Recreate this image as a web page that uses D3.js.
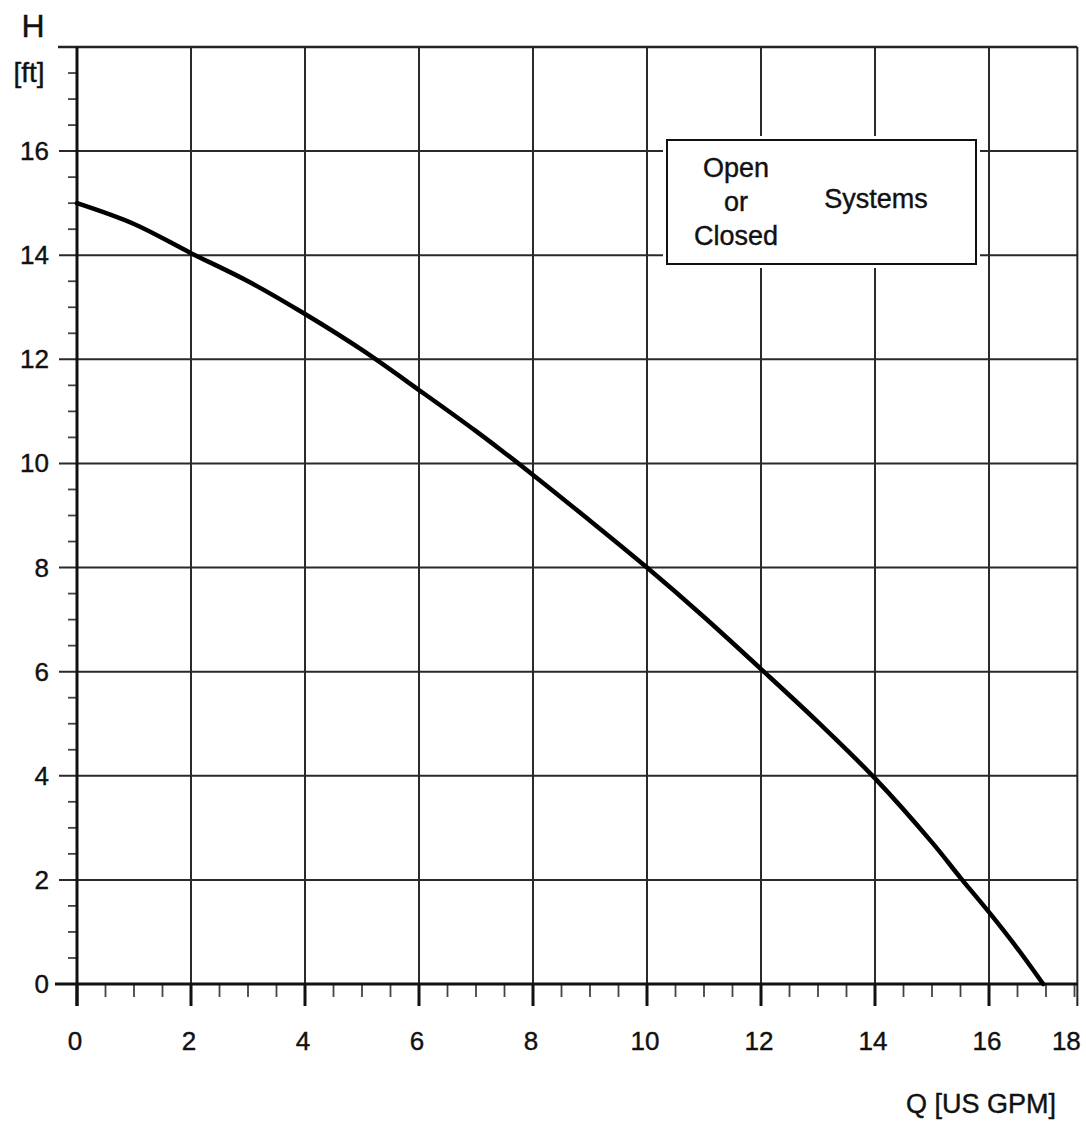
<!DOCTYPE html>
<html lang="en">
    <head>
        <meta charset="utf-8">
        <title>Pump curve</title>
        <script type="text/javascript" src="https://cdnjs.cloudflare.com/ajax/libs/d3/7.8.5/d3.min.js"></script>
        <style type="text/css">
            body { margin: 0; background: #fff; }
            text { font-family: "Liberation Sans", Arial, sans-serif; fill: #111; stroke: #111; stroke-width: 0.4px; }
        </style>
    </head>
    <body>
        <script type="text/javascript">
            // data
            var flowQ = [0, 1, 2, 3, 4, 5, 6, 7, 8, 9, 10, 11, 12, 13, 14, 15, 15.5, 16, 16.5, 16.95];
            var headH = [15.0, 14.6, 14.04, 13.5, 12.87, 12.18, 11.41, 10.62, 9.78, 8.9, 8.0, 7.05, 6.05, 5.03, 3.95, 2.72, 2.04, 1.38, 0.68, 0];
            var xTicks = [0, 2, 4, 6, 8, 10, 12, 14, 16, 18];
            var yTicks = [0, 2, 4, 6, 8, 10, 12, 14, 16];
            var noteLeft = ["Open", "or", "Closed"];
            var noteRight = "Systems";

            var w = 1086;
            var h = 1123;
            var xFrameMax = 17.55;   // the scan is cut off before 18

            var x = d3.scaleLinear().domain([0, 18]).range([77, 1103]);
            var y = d3.scaleLinear().domain([0, 18]).range([984, 47]);

            var svg = d3.select("body")
                        .append("svg")
                        .attr("width", w)
                        .attr("height", h);

            var right = x(xFrameMax);
            var minorX = d3.range(0, 17.51, 0.5).filter(function (d) { return d % 2 !== 0; });
            var minorY = d3.range(0, 18, 0.5).filter(function (d) { return d % 2 !== 0; });

            // grid
            svg.selectAll("line.vgrid")
               .data(xTicks.filter(function (d) { return d > 0 && d < xFrameMax; }))
               .enter()
               .append("line")
               .attr("class", "vgrid")
               .attr("x1", function (d) { return x(d); })
               .attr("x2", function (d) { return x(d); })
               .attr("y1", y(18))
               .attr("y2", y(0))
               .attr("stroke", "#2a2a2a")
               .attr("stroke-width", 2);

            svg.selectAll("line.hgrid")
               .data(yTicks.filter(function (d) { return d > 0; }))
               .enter()
               .append("line")
               .attr("class", "hgrid")
               .attr("x1", 59)
               .attr("x2", right)
               .attr("y1", function (d) { return y(d); })
               .attr("y2", function (d) { return y(d); })
               .attr("stroke", "#2a2a2a")
               .attr("stroke-width", 2);

            // major ticks under the x axis
            svg.selectAll("line.xmajor")
               .data(xTicks.filter(function (d) { return d < xFrameMax; }))
               .enter()
               .append("line")
               .attr("class", "xmajor")
               .attr("x1", function (d) { return x(d); })
               .attr("x2", function (d) { return x(d); })
               .attr("y1", y(0))
               .attr("y2", 1006)
               .attr("stroke", "#111")
               .attr("stroke-width", 3);

            svg.selectAll("line.xminor")
               .data(minorX)
               .enter()
               .append("line")
               .attr("class", "xminor")
               .attr("x1", function (d) { return x(d); })
               .attr("x2", function (d) { return x(d); })
               .attr("y1", y(0))
               .attr("y2", 997)
               .attr("stroke", "#444")
               .attr("stroke-width", 1.8);

            svg.selectAll("line.yminor")
               .data(minorY)
               .enter()
               .append("line")
               .attr("class", "yminor")
               .attr("x1", 68)
               .attr("x2", x(0))
               .attr("y1", function (d) { return y(d); })
               .attr("y2", function (d) { return y(d); })
               .attr("stroke", "#444")
               .attr("stroke-width", 1.8);

            // frame
            svg.append("line")
               .attr("x1", 58).attr("x2", right)
               .attr("y1", y(18)).attr("y2", y(18))
               .attr("stroke", "#222").attr("stroke-width", 2.5);
            svg.append("line")
               .attr("x1", right).attr("x2", right)
               .attr("y1", y(18)).attr("y2", 1006)
               .attr("stroke", "#222").attr("stroke-width", 2);
            svg.append("line")
               .attr("x1", 55).attr("x2", right)
               .attr("y1", y(0)).attr("y2", y(0))
               .attr("stroke", "#111").attr("stroke-width", 3);
            svg.append("line")
               .attr("x1", x(0)).attr("x2", x(0))
               .attr("y1", y(18)).attr("y2", 1006)
               .attr("stroke", "#111").attr("stroke-width", 3);

            // tick labels
            svg.selectAll("text.ylab")
               .data(yTicks)
               .enter()
               .append("text")
               .attr("class", "ylab")
               .attr("x", 49)
               .attr("y", function (d) { return y(d) + 9; })
               .attr("text-anchor", "end")
               .attr("font-size", 26)
               .text(function (d) { return d; });

            svg.selectAll("text.xlab")
               .data(xTicks)
               .enter()
               .append("text")
               .attr("class", "xlab")
               .attr("x", function (d) { return Math.min(x(d) - 2, right - 11); })
               .attr("y", 1050)
               .attr("text-anchor", "middle")
               .attr("font-size", 26)
               .text(function (d) { return d; });

            // axis titles
            svg.append("text").attr("x", 33).attr("y", 37)
               .attr("text-anchor", "middle").attr("font-size", 32).text("H");
            svg.append("text").attr("x", 29).attr("y", 82)
               .attr("text-anchor", "middle").attr("font-size", 28).text("[ft]");
            svg.append("text").attr("x", 981).attr("y", 1113)
               .attr("text-anchor", "middle").attr("font-size", 27).text("Q [US GPM]");

            // note box
            svg.append("rect")
               .attr("x", 663).attr("y", 136)
               .attr("width", 317).attr("height", 132)
               .attr("fill", "#fff");
            svg.append("rect")
               .attr("x", 667).attr("y", 140)
               .attr("width", 309).attr("height", 124)
               .attr("fill", "#fff")
               .attr("stroke", "#111")
               .attr("stroke-width", 2);
            svg.selectAll("text.note")
               .data(noteLeft)
               .enter()
               .append("text")
               .attr("class", "note")
               .attr("x", 736)
               .attr("y", function (d, i) { return 177 + i * 34; })
               .attr("text-anchor", "middle")
               .attr("font-size", 27)
               .text(function (d) { return d; });
            svg.append("text").attr("x", 876).attr("y", 208)
               .attr("text-anchor", "middle").attr("font-size", 27).text(noteRight);

            // pump curve
            var line = d3.line()
                         .x(function (d) { return x(d[0]); })
                         .y(function (d) { return y(d[1]); })
                         .curve(d3.curveCatmullRom.alpha(0.5));

            svg.append("path")
               .datum(d3.zip(flowQ, headH))
               .attr("d", line)
               .attr("fill", "none")
               .attr("stroke", "#000")
               .attr("stroke-width", 4.5)
               .attr("stroke-linecap", "round");
        </script>
    </body>
</html>
